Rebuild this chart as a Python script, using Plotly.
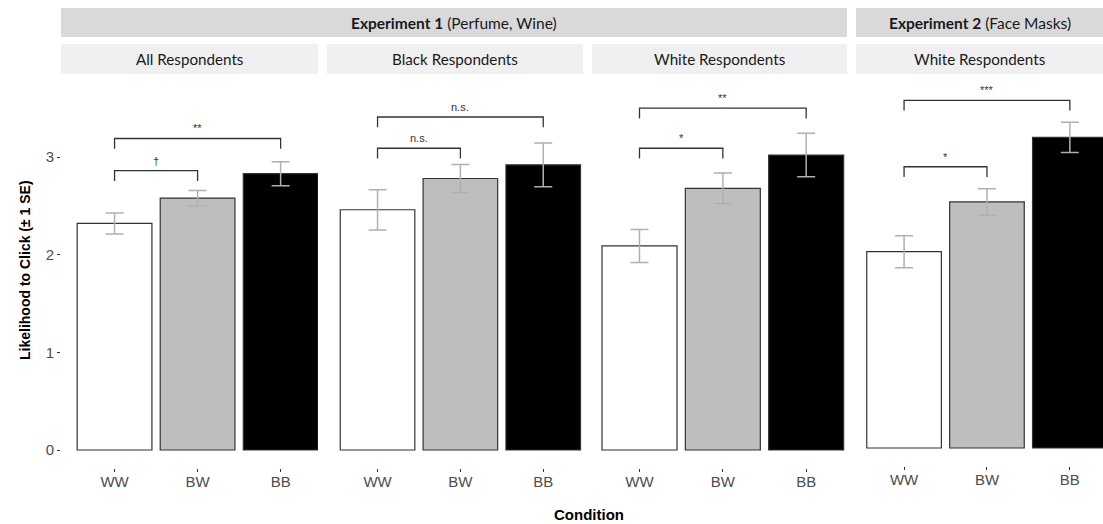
import plotly.graph_objects as go

W, H = 1103, 524

conditions = ["WW", "BW", "BB"]
panel_titles = ["All Respondents", "Black Respondents", "White Respondents", "White Respondents"]

means_all = [2.32, 2.58, 2.83]
se_all = [0.107, 0.078, 0.123]
means_black = [2.46, 2.78, 2.92]
se_black = [0.206, 0.143, 0.224]
means_white1 = [2.09, 2.68, 3.02]
se_white1 = [0.169, 0.157, 0.223]
means_white2 = [2.01, 2.52, 3.18]
se_white2 = [0.164, 0.136, 0.155]

bar_colors = ["#FFFFFF", "#BEBEBE", "#000000"]

# significance brackets
sig_panel = [0, 0, 1, 1, 2, 2, 3, 3]
sig_from = ["WW", "WW", "WW", "WW", "WW", "WW", "WW", "WW"]
sig_to = ["BW", "BB", "BW", "BB", "BW", "BB", "BW", "BB"]
sig_y = [2.86, 3.19, 3.09, 3.41, 3.09, 3.50, 2.88, 3.56]
sig_label = ["†", "**", "n.s.", "n.s.", "*", "**", "*", "***"]

means = [means_all, means_black, means_white1, means_white2]
ses = [se_all, se_black, se_white1, se_white2]

# layout geometry (pixels)
panel_px = [(61, 318), (327, 583), (592, 847), (856, 1103)]
x_ranges = [[-0.645, 2.45], [-0.61, 2.48], [-0.57, 2.49], [-0.58, 2.40]]
y_px = [(75, 467.6), (75, 467.6), (75, 467.6), (73, 465.6)]
y_range = [-0.18, 3.84]
leg_drop = 0.105

def fx(px):
    return px / W

def fy(py):
    return 1 - py / H

fig = go.Figure()
layout = dict(
    width=W, height=H,
    margin=dict(l=0, r=0, t=0, b=0),
    paper_bgcolor="white", plot_bgcolor="white",
    showlegend=False,
    font=dict(family="Liberation Sans, Arial", color="#4D4D4D"),
)

for i in range(4):
    xa = "x" if i == 0 else f"x{i+1}"
    ya = "y" if i == 0 else f"y{i+1}"
    fig.add_trace(go.Bar(
        x=conditions, y=means[i], width=0.9,
        marker=dict(color=bar_colors, line=dict(color="#333333", width=1.2)),
        error_y=dict(type="data", array=ses[i], color="#B0B0B0", thickness=1.5, width=9),
        xaxis=xa, yaxis=ya, hoverinfo="skip",
    ))
    key_x = "xaxis" if i == 0 else f"xaxis{i+1}"
    key_y = "yaxis" if i == 0 else f"yaxis{i+1}"
    layout[key_x] = dict(
        domain=[fx(panel_px[i][0]), fx(panel_px[i][1])],
        anchor=ya, range=x_ranges[i], type="category",
        showgrid=False, zeroline=False, showline=False,
        ticks="outside", ticklen=3, tickcolor="#333333", tickwidth=1,
        ticklabelstandoff=-3,
        tickfont=dict(size=15, color="#4D4D4D", family="Liberation Sans, Arial"),
        fixedrange=True,
    )
    layout[key_y] = dict(
        domain=[fy(y_px[i][1]), fy(y_px[i][0])],
        anchor=xa, range=y_range,
        showgrid=False, zeroline=False, showline=False,
        tickvals=[0, 1, 2, 3],
        ticks="outside" if i == 0 else "", ticklen=3, tickcolor="#333333", tickwidth=1,
        showticklabels=(i == 0),
        tickfont=dict(size=15, color="#4D4D4D", family="Liberation Sans, Arial"),
        fixedrange=True,
    )

annotations = []
# brackets
for p, a, b, yv, lab in zip(sig_panel, sig_from, sig_to, sig_y, sig_label):
    xa = "x" if p == 0 else f"x{p+1}"
    ya = "y" if p == 0 else f"y{p+1}"
    fig.add_trace(go.Scatter(
        x=[a, a, b, b], y=[yv - leg_drop, yv, yv, yv - leg_drop],
        mode="lines", line=dict(color="#333333", width=1.3),
        xaxis=xa, yaxis=ya, hoverinfo="skip",
    ))
    ia = conditions.index(a)
    ib = conditions.index(b)
    annotations.append(dict(
        x=(ia + ib) / 2, y=yv, xref=xa, yref=ya,
        text=lab, showarrow=False, yanchor="bottom", yshift=2,
        font=dict(size=11, color="#333333", family="Liberation Sans, Arial"),
    ))

shapes = []
# experiment strips
exp_strips = [(61, 847), (856, 1103)]
for (x0, x1) in exp_strips:
    shapes.append(dict(type="rect", xref="paper", yref="paper",
                       x0=fx(x0), x1=fx(x1), y0=fy(37), y1=fy(8),
                       fillcolor="#D9D9D9", line=dict(width=0), layer="below"))
exp_texts = ["<b>Experiment 1</b> (Perfume, Wine)", "<b>Experiment 2</b> (Face Masks)"]
for (x0, x1), t in zip(exp_strips, exp_texts):
    annotations.append(dict(x=fx((x0 + x1) / 2), y=fy(22.5), xref="paper", yref="paper",
                            text=t, showarrow=False, xanchor="center", yanchor="middle",
                            font=dict(size=15.5, color="#1A1A1A", family="Lato, Open Sans")))
# panel strips
for (x0, x1), t in zip(panel_px, panel_titles):
    shapes.append(dict(type="rect", xref="paper", yref="paper",
                       x0=fx(x0), x1=fx(x1), y0=fy(74), y1=fy(44),
                       fillcolor="#F0F0F0", line=dict(width=0), layer="below"))
    annotations.append(dict(x=fx((x0 + x1) / 2), y=fy(59), xref="paper", yref="paper",
                            text=t, showarrow=False, xanchor="center", yanchor="middle",
                            font=dict(size=15.2, color="#1A1A1A", family="Lato, Open Sans")))

# axis titles
annotations.append(dict(x=fx(25), y=fy(270), xref="paper", yref="paper",
                        text="<b>Likelihood to Click (± 1 SE)</b>", textangle=-90,
                        showarrow=False, xanchor="center", yanchor="middle",
                        font=dict(size=14, color="#000000", family="Liberation Sans, Arial")))
annotations.append(dict(x=fx(589), y=fy(514), xref="paper", yref="paper",
                        text="<b>Condition</b>", showarrow=False,
                        xanchor="center", yanchor="middle",
                        font=dict(size=15, color="#000000", family="Liberation Sans, Arial")))

layout["annotations"] = annotations
layout["shapes"] = shapes
fig.update_layout(**layout)
fig.write_html("out.html")
